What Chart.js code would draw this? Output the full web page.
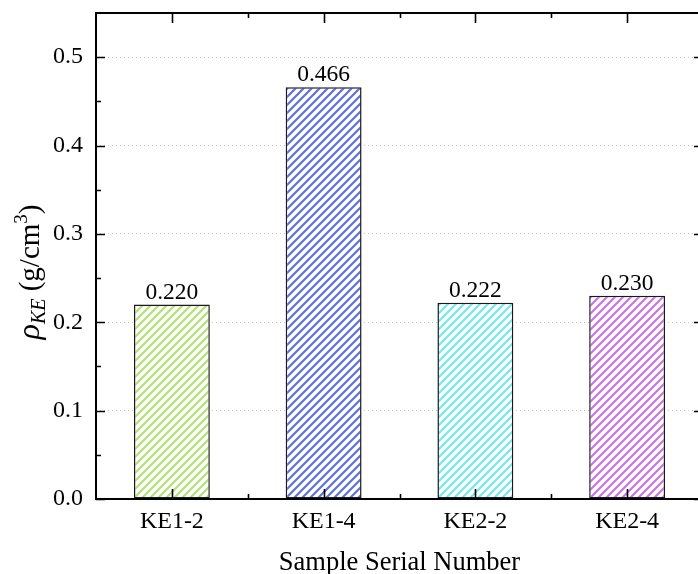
<!DOCTYPE html>
<html>
<head>
<meta charset="utf-8">
<script src="https://cdn.jsdelivr.net/npm/chart.js@4/dist/chart.umd.min.js"></script>
<style>
  html, body { margin: 0; padding: 0; background: #fff; overflow: hidden; }
  #wrap { width: 704px; height: 574px; }
</style>
</head>
<body>
<div id="wrap"><canvas id="c" width="704" height="574"></canvas></div>
<script>
// Bulk density of each sample
const categories = ['KE1-2', 'KE1-4', 'KE2-2', 'KE2-4'];
const densities = [0.220, 0.466, 0.222, 0.230];
const barColors = ['#b2e274', '#5e72da', '#6eeaf0', '#c874e2'];
const yTicks = [0.0, 0.1, 0.2, 0.3, 0.4, 0.5];
const yMin = 0;
const yMax = 0.55;

const SERIF = "'Liberation Serif', 'Times New Roman', serif";

// Diagonal hatch fill for the bars
function hatch(color) {
  const s = 8;
  const c = document.createElement('canvas');
  c.width = s; c.height = s;
  const g = c.getContext('2d');
  g.fillStyle = '#fff';
  g.fillRect(0, 0, s, s);
  g.strokeStyle = color;
  g.lineWidth = 2.2;
  g.beginPath();
  for (let k = -1; k <= 1; k++) {
    g.moveTo(k * s - 1, s + 1);
    g.lineTo(k * s + s + 1, -1);
  }
  g.stroke();
  return g.createPattern(c, 'repeat');
}

// Closed frame with inward major/minor ticks on all four sides
const framePlugin = {
  id: 'frame',
  afterDatasetsDraw(chart) {
    const { ctx, chartArea: a, scales: { x, y } } = chart;
    ctx.save();
    ctx.strokeStyle = '#000';
    ctx.lineWidth = 1.6;
    ctx.beginPath();
    yTicks.forEach(v => {
      const py = Math.round(y.getPixelForValue(v)) + 0.5;
      ctx.moveTo(a.left, py); ctx.lineTo(a.left + 9, py);
      ctx.moveTo(a.right, py); ctx.lineTo(a.right - 9, py);
      const m = v + 0.05;
      if (m < yMax) {
        const pm = Math.round(y.getPixelForValue(m)) + 0.5;
        ctx.moveTo(a.left, pm); ctx.lineTo(a.left + 5, pm);
        ctx.moveTo(a.right, pm); ctx.lineTo(a.right - 5, pm);
      }
    });
    categories.forEach((c, i) => {
      const px = Math.round(x.getPixelForValue(i)) + 0.5;
      ctx.moveTo(px, a.bottom); ctx.lineTo(px, a.bottom - 10);
      ctx.moveTo(px, a.top); ctx.lineTo(px, a.top + 10);
      if (i > 0) {
        const pb = Math.round((x.getPixelForValue(i - 1) + x.getPixelForValue(i)) / 2) + 0.5;
        ctx.moveTo(pb, a.bottom); ctx.lineTo(pb, a.bottom - 5);
        ctx.moveTo(pb, a.top); ctx.lineTo(pb, a.top + 5);
      }
    });
    ctx.stroke();
    ctx.lineWidth = 2;
    ctx.strokeRect(a.left, a.top, a.right - a.left, a.bottom - a.top);

    // value labels above bars
    const meta = chart.getDatasetMeta(0);
    ctx.fillStyle = '#000';
    ctx.font = '23.5px ' + SERIF;
    ctx.textAlign = 'center';
    ctx.textBaseline = 'alphabetic';
    meta.data.forEach((bar, i) => {
      ctx.fillText(densities[i].toFixed(3), bar.x, bar.y - 6);
    });
    ctx.restore();
  }
};

// Rotated y-axis title with italic symbol, subscript and superscript
const yTitlePlugin = {
  id: 'yTitle',
  afterDraw(chart) {
    const { ctx } = chart;
    const parts = [
      { t: '\u03C1', f: 'italic 32px ' + SERIF, dy: 0 },
      { t: 'KE', f: 'italic 20px ' + SERIF, dy: 6 },
      { t: ' (g/cm', f: '29px ' + SERIF, dy: 0 },
      { t: '3', f: '19px ' + SERIF, dy: -12 },
      { t: ')', f: '29px ' + SERIF, dy: 0 }
    ];
    ctx.save();
    let total = 0;
    parts.forEach(p => { ctx.font = p.f; p.w = ctx.measureText(p.t).width; total += p.w; });
    ctx.translate(39, 272);
    ctx.rotate(-Math.PI / 2);
    ctx.fillStyle = '#000';
    ctx.textBaseline = 'alphabetic';
    ctx.textAlign = 'left';
    let cx = -total / 2;
    parts.forEach(p => {
      ctx.font = p.f;
      ctx.fillText(p.t, cx, p.dy);
      cx += p.w;
    });
    ctx.restore();
  }
};

new Chart(document.getElementById('c'), {
  type: 'bar',
  data: {
    labels: categories,
    datasets: [{
      data: densities,
      backgroundColor: barColors.map(hatch),
      borderColor: '#1a1a1a',
      borderWidth: 1.5,
      borderSkipped: false,
      categoryPercentage: 1.0,
      barPercentage: 0.5
    }]
  },
  options: {
    responsive: false,
    animation: false,
    devicePixelRatio: 1,
    layout: { padding: { left: 0, top: 13, right: 1, bottom: 0 } },
    plugins: { legend: { display: false }, tooltip: { enabled: false } },
    scales: {
      x: {
        grid: { display: false, drawTicks: false },
        border: { display: false },
        ticks: { color: '#000', font: { family: SERIF, size: 24 }, padding: 8, maxRotation: 0 },
        title: {
          display: true, text: 'Sample Serial Number', color: '#000',
          font: { family: SERIF, size: 26.5, lineHeight: 0.8 }, padding: 0
        },
        afterFit(scale) { scale.height = 75; }
      },
      y: {
        min: yMin, max: yMax,
        afterBuildTicks(scale) { scale.ticks = yTicks.map(v => ({ value: v })); },
        grid: {
          drawTicks: false,
          color: ctx => (ctx.tick && ctx.tick.value === 0) ? 'rgba(0,0,0,0)' : '#c4c4c4',
          lineWidth: 1
        },
        border: { display: false, dash: [1, 3] },
        ticks: {
          color: '#000', font: { family: SERIF, size: 24 }, padding: 13,
          callback: v => Number(v).toFixed(1)
        },
        afterFit(scale) {
          scale.width = 96;
          scale.paddingTop = 0;
          scale.paddingBottom = 0;
        }
      }
    }
  },
  plugins: [framePlugin, yTitlePlugin]
});
</script>
</body>
</html>
